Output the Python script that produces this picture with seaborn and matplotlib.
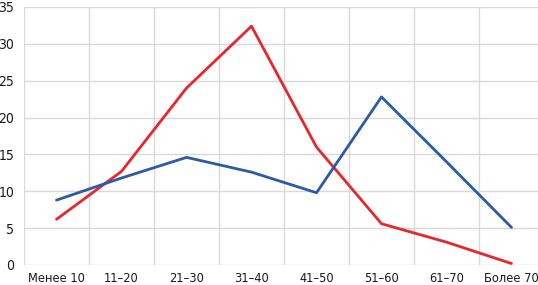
import matplotlib
matplotlib.use("Agg")
import matplotlib.pyplot as plt
import seaborn as sns
import pandas as pd

categories = ["Менее 10", "11–20", "21–30", "31–40", "41–50", "51–60", "61–70", "Более 70"]
red_values = [6.2, 12.7, 24.0, 32.4, 16.0, 5.6, 3.1, 0.2]
blue_values = [8.8, 11.8, 14.6, 12.6, 9.8, 22.8, 14.0, 5.1]
y_ticks = [0, 5, 10, 15, 20, 25, 30, 35]

sns.set_theme(style="white")
plt.rcParams['font.family'] = ['DejaVu Sans']
plt.rcParams['font.stretch'] = 'condensed'

df = pd.DataFrame({
    "cat": list(range(len(categories))) * 2,
    "value": red_values + blue_values,
    "series": ["red"] * len(categories) + ["blue"] * len(categories),
})

fig = plt.figure(figsize=(5.38, 2.85), dpi=100)
ax = fig.add_axes([24 / 538, 1 - 265 / 285, 1 - 24 / 538, (265 - 7) / 285])

sns.lineplot(data=df, x="cat", y="value", hue="series",
             palette={"red": "#e8262b", "blue": "#2b5ba6"},
             linewidth=2.0, legend=False, ax=ax, sort=False)

ax.set_yticks(y_ticks)
ax.set_yticklabels([str(v) for v in y_ticks], fontsize=10, color="#1a1a1a",
                   fontstretch='condensed')
ax.set_xticks(range(len(categories)))
ax.set_xticklabels(categories, fontsize=9.2, color="#1a1a1a",
                   fontstretch='condensed')
ax.set_xticks([i + 0.5 for i in range(-1, len(categories) - 1)], minor=True)
ax.set_ylim(0, 35)
ax.set_xlim(-0.5, -0.5 + (538 - 24) / 65)
ax.grid(False)
ax.grid(True, axis="y", which="major", color="#d9d9d9", linewidth=1.0)
ax.grid(True, axis="x", which="minor", color="#d9d9d9", linewidth=1.0)
ax.tick_params(axis="both", which="both", length=0)
ax.tick_params(axis="y", pad=7)
ax.tick_params(axis="x", pad=5)
for s in ax.spines.values():
    s.set_visible(False)
ax.set_xlabel("")
ax.set_ylabel("")
ax.set_axisbelow(True)

fig.savefig("out.png", dpi=100)
